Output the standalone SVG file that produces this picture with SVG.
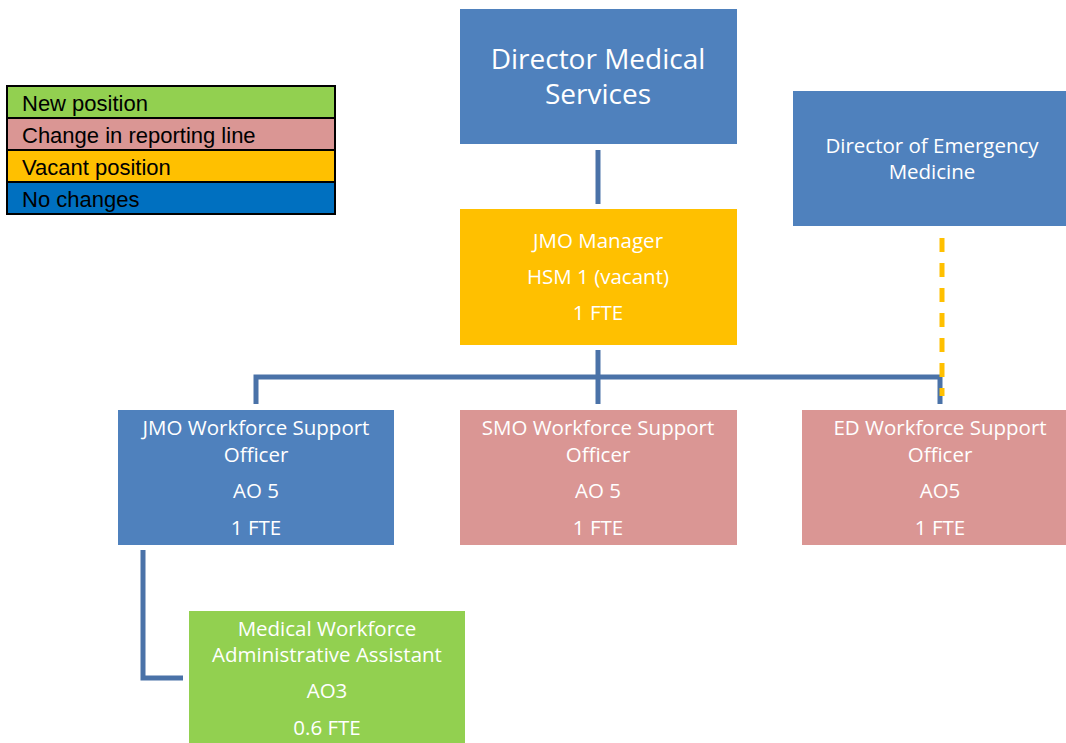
<svg xmlns="http://www.w3.org/2000/svg" width="1066" height="743" viewBox="0 0 1066 743">
<style>
.box{stroke:none}
.blue{fill:#4F81BD}
.amber{fill:#FFC000}
.pink{fill:#DA9694}
.green{fill:#92D050}
.t{font-family:"Open Sans","Noto Sans",sans-serif;fill:#fff;text-anchor:middle;font-size:20.5px}
.big{font-size:28px}
.leg{font-family:"Liberation Sans",Arial,sans-serif;font-size:22px;fill:#000}
.conn{fill:none;stroke:#4A72A8;stroke-width:5}
.dash{fill:none;stroke:#FFC000;stroke-width:5;stroke-dasharray:14 11}
</style>
<rect width="1066" height="743" fill="#fff"/>
<g id="legend">
<rect x="7" y="86" width="328" height="32" fill="#92D050"/>
<rect x="7" y="118" width="328" height="32" fill="#DA9694"/>
<rect x="7" y="150" width="328" height="32" fill="#FFC000"/>
<rect x="7" y="182" width="328" height="32" fill="#0070C0"/>
<g fill="none" stroke="#000" stroke-width="2">
<rect x="7" y="86" width="328" height="128"/>
<line x1="7" y1="118" x2="335" y2="118"/>
<line x1="7" y1="150" x2="335" y2="150"/>
<line x1="7" y1="182" x2="335" y2="182"/>
</g>
<text class="leg" x="22" y="111">New position</text>
<text class="leg" x="22" y="143">Change in reporting line</text>
<text class="leg" x="22" y="175">Vacant position</text>
<text class="leg" x="22" y="207">No changes</text>
</g>
<g id="connectors">
<line class="conn" x1="598" y1="150" x2="598" y2="204"/>
<path class="conn" d="M598 350 V404 M256 404 V377 H940 V404"/>
<path class="conn" d="M143 550 V678 H183"/>
<line class="dash" x1="942" y1="238" x2="942" y2="396"/>
</g>
<g id="director-medical-services">
<rect class="box blue" x="460" y="9" width="277" height="135"/>
<text class="t big" x="598" y="69">Director Medical</text>
<text class="t big" x="598" y="104">Services</text>
</g>
<g id="director-emergency-medicine">
<rect class="box blue" x="793" y="91" width="273" height="135"/>
<text class="t" x="932" y="153">Director of Emergency</text>
<text class="t" x="932" y="179">Medicine</text>
</g>
<g id="jmo-manager">
<rect class="box amber" x="460" y="209" width="277" height="136"/>
<text class="t" x="598" y="248">JMO Manager</text>
<text class="t" x="598" y="284">HSM 1 (vacant)</text>
<text class="t" x="598" y="320">1 FTE</text>
</g>
<g id="jmo-wso">
<rect class="box blue" x="118" y="410" width="276" height="135"/>
<text class="t" x="256" y="435">JMO Workforce Support</text>
<text class="t" x="256" y="462">Officer</text>
<text class="t" x="256" y="498">AO 5</text>
<text class="t" x="256" y="535">1 FTE</text>
</g>
<g id="smo-wso">
<rect class="box pink" x="460" y="410" width="277" height="135"/>
<text class="t" x="598" y="435">SMO Workforce Support</text>
<text class="t" x="598" y="462">Officer</text>
<text class="t" x="598" y="498">AO 5</text>
<text class="t" x="598" y="535">1 FTE</text>
</g>
<g id="ed-wso">
<rect class="box pink" x="802" y="410" width="264" height="135"/>
<text class="t" x="940" y="435">ED Workforce Support</text>
<text class="t" x="940" y="462">Officer</text>
<text class="t" x="940" y="498">AO5</text>
<text class="t" x="940" y="535">1 FTE</text>
</g>
<g id="medical-workforce-aa">
<rect class="box green" x="189" y="611" width="276" height="132"/>
<text class="t" x="327" y="636">Medical Workforce</text>
<text class="t" x="327" y="662">Administrative Assistant</text>
<text class="t" x="327" y="698">AO3</text>
<text class="t" x="327" y="735">0.6 FTE</text>
</g>
</svg>
